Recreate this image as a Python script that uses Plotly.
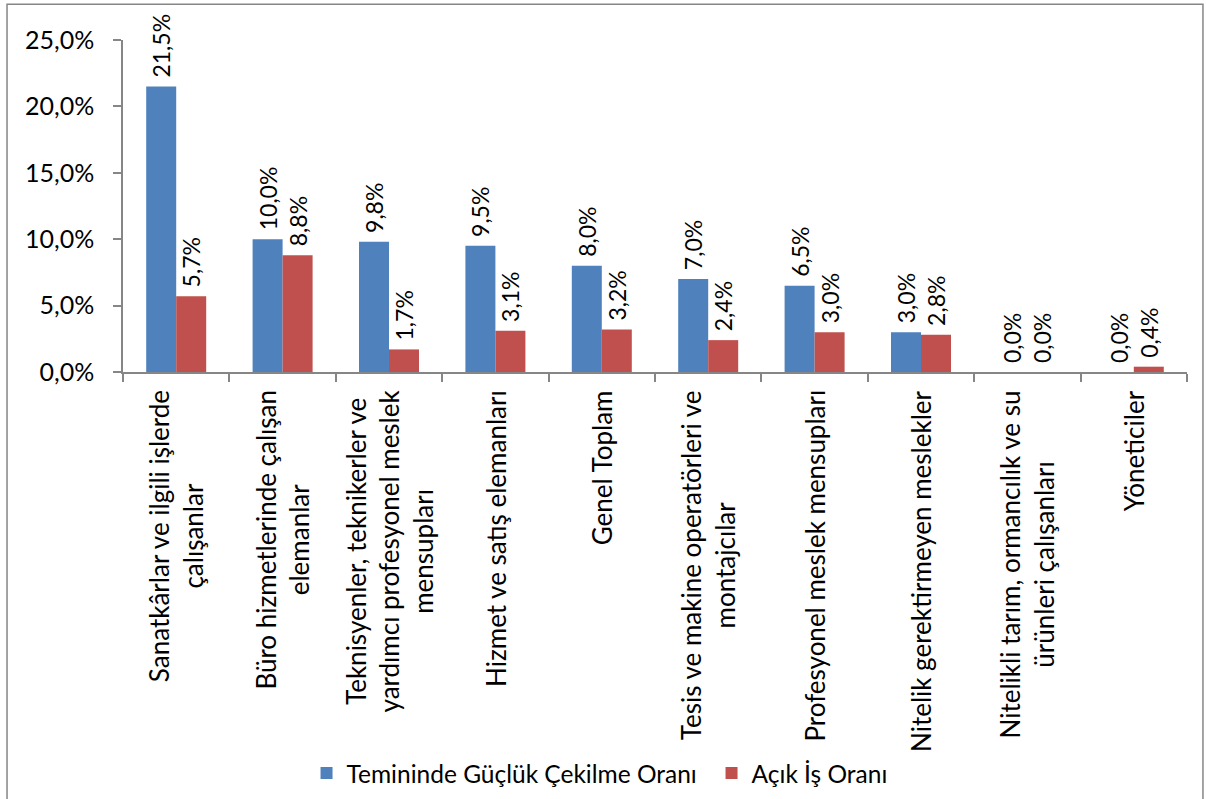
import plotly.graph_objects as go

categories = [
    "Sanatkârlar ve ilgili işlerde<br>çalışanlar",
    "Büro hizmetlerinde çalışan<br>elemanlar",
    "Teknisyenler, teknikerler ve<br>yardımcı profesyonel meslek<br>mensupları",
    "Hizmet ve satış elemanları",
    "Genel Toplam",
    "Tesis ve makine operatörleri ve<br>montajcılar",
    "Profesyonel meslek mensupları",
    "Nitelik gerektirmeyen meslekler",
    "Nitelikli tarım, ormancılık ve su<br>ürünleri çalışanları",
    "Yöneticiler",
]
temin_gucluk = [0.215, 0.100, 0.098, 0.095, 0.080, 0.070, 0.065, 0.030, 0.000, 0.000]
acik_is = [0.057, 0.088, 0.017, 0.031, 0.032, 0.024, 0.030, 0.028, 0.000, 0.004]
series_names = ["Temininde Güçlük Çekilme Oranı", "Açık İş Oranı"]
y_ticks = [0, 0.05, 0.10, 0.15, 0.20, 0.25]

FONT = "Lato"
BLUE = "#4F81BD"
RED = "#C0504D"
GRAY = "#868686"

fig = go.Figure()
for name, vals, col in [(series_names[0], temin_gucluk, BLUE), (series_names[1], acik_is, RED)]:
    fig.add_trace(go.Bar(
        x=categories, y=vals, name=name,
        marker=dict(color=col, line=dict(width=0)),
        texttemplate="\u00a0%{y:.1%}", textposition="outside", textangle=-90,
        outsidetextfont=dict(family=FONT, size=23, color="black"),
        cliponaxis=False, constraintext="none",
    ))

for c in categories:
    fig.add_annotation(
        x=c, y=0, xref="x", yref="paper", text=c, showarrow=False,
        textangle=-90, xanchor="center", yanchor="top", yshift=-16,
        align="center", font=dict(family=FONT, size=26, color="black"),
    )

# outer chart border (plot area: x 123..1187, y 40..372 in px)
fig.add_shape(type="rect", xref="paper", yref="paper",
              x0=-0.109, x1=1.015, y0=-1.33, y1=1.108,
              line=dict(color=GRAY, width=1.5), fillcolor="rgba(0,0,0,0)", layer="below")

fig.update_layout(
    width=1206, height=799,
    margin=dict(l=123, r=19, t=40, b=427, autoexpand=False),
    paper_bgcolor="white", plot_bgcolor="white",
    separators=",.",
    barmode="group", bargap=0.436, bargroupgap=0,
    font=dict(family=FONT, size=25, color="black"),
    showlegend=True,
    legend=dict(orientation="h", x=0.1725, xanchor="left", y=-1.208, yanchor="middle",
                entrywidth=360, entrywidthmode="pixels", bgcolor="rgba(0,0,0,0)",
                font=dict(family=FONT, size=24.5, color="black"),
                traceorder="normal"),
    xaxis=dict(showticklabels=False, showline=True, linecolor=GRAY, linewidth=1.5,
               ticks="outside", ticklen=8, tickcolor=GRAY, tickwidth=1.5,
               tickson="boundaries", showgrid=False, zeroline=False),
    yaxis=dict(range=[0, 0.25], tickvals=y_ticks, tickformat=".1%",
               showline=True, linecolor=GRAY, linewidth=1.5,
               ticks="outside", ticklen=8, tickcolor=GRAY, tickwidth=1.5,
               showgrid=False, zeroline=False, ticklabelstandoff=14,
               tickfont=dict(family=FONT, size=25, color="black")),
)

fig.write_html("out.html", config={"displayModeBar": False},
               post_script="document.body.style.margin='0';")
